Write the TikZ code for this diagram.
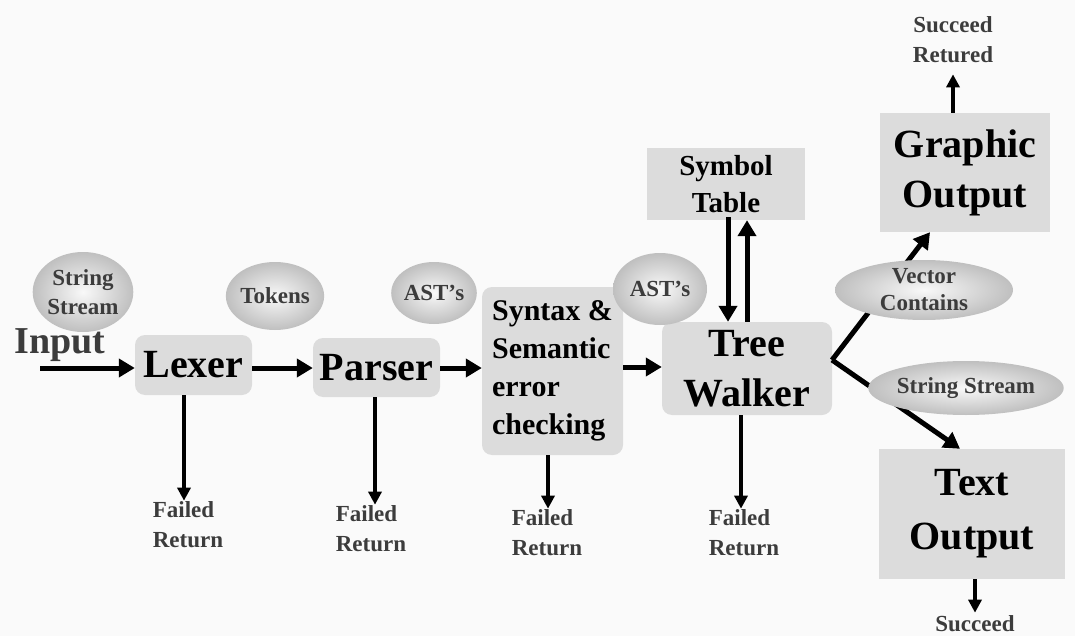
\documentclass[tikz,border=0pt]{standalone}
\usepackage{fontspec}
\setmainfont{Liberation Serif}
\usetikzlibrary{arrows.meta,shapes.geometric,calc}
\definecolor{boxgray}{HTML}{DCDCDC}
\definecolor{bgcol}{HTML}{FAFAFA}
\definecolor{txtgray}{HTML}{3C3C3C}
\begin{document}
\begin{tikzpicture}[x=1pt,y=-1pt,
  box/.style={fill=boxgray, inner sep=0pt, font=\bfseries\fontsize{40}{50}\selectfont, align=center},
  rbox/.style={box, rounded corners=10pt},
  bubble/.style={ellipse, inner sep=0pt, inner color=gray!5, outer color=gray!50, text=txtgray, font=\bfseries\fontsize{23}{29}\selectfont, align=center},
  lbl/.style={text=txtgray, font=\bfseries\fontsize{23}{30}\selectfont, align=left, inner sep=1pt},
  bigarrow/.style={line width=5pt, -{Triangle[length=16pt,width=18pt]}},
  thinarrow/.style={line width=4pt, -{Triangle[length=13pt,width=13pt]}}
]
\fill[bgcol] (0,0) rectangle (1075,636);
\useasboundingbox (0,0) rectangle (1075,636);

% boxes
\node[rbox, minimum width=117pt, minimum height=60pt] (lexer) at (193.5,365) {Lexer};
\node[rbox, minimum width=127pt, minimum height=59pt] (parser) at (376.5,367.5) {Parser};
\node[rbox, minimum width=141pt, minimum height=168pt, align=left, font=\bfseries\fontsize{30}{38}\selectfont] (syntax) at (552.5,371) {Syntax \&\\Semantic\\error\\checking};
\node[rbox, minimum width=170pt, minimum height=93pt] (tree) at (747,368.5) {Tree\\Walker};
\node[box, minimum width=158pt, minimum height=72pt, font=\bfseries\fontsize{29}{37}\selectfont] (symbol) at (726,184) {Symbol\\Table};
\node[box, minimum width=170pt, minimum height=119pt] (graphic) at (965,172.5) {Graphic\\Output};
\node[box, minimum width=186pt, minimum height=130pt, font=\bfseries\fontsize{40}{54}\selectfont] (textout) at (972,514) {Text\\Output};

% labels
\node[text=txtgray, font=\bfseries\fontsize{38}{40}\selectfont, inner sep=0pt] (input) at (60,345) {Input};
\coordinate (instart) at (40,368);
\node[lbl] (fr1) at (188,525) {Failed\\Return};
\node[lbl] (fr2) at (371,529) {Failed\\Return};
\node[lbl] (fr3) at (547,533) {Failed\\Return};
\node[lbl] (fr4) at (744,533) {Failed\\Return};
\node[lbl, align=center] (succret) at (953,40) {Succeed\\Retured};
\node[lbl] (succ) at (975,624) {Succeed};
\coordinate (vpt) at (832,360);

% connectors
\draw[bigarrow] (instart) -- (lexer.west |- instart);
\draw[bigarrow] (lexer.east |- 0,368) -- (parser.west |- 0,368);
\draw[bigarrow] (parser.east |- 0,368) -- (syntax.west |- 0,368);
\draw[bigarrow] (syntax.east |- 0,367) -- (tree.west |- 0,367);
\draw[bigarrow] ([yshift=3pt]symbol.south -| 728,0) -- (tree.north -| 728,0);
\draw[bigarrow] (tree.north -| 747,0) -- (symbol.south -| 747,0);
\draw[bigarrow] (vpt) -- (graphic.south -| 930,0);
\draw[bigarrow] (vpt) -- (textout.north -| 960,0);
\draw[thinarrow] (lexer.south -| 184,0) -- (fr1.north -| 184,0);
\draw[thinarrow] (parser.south -| 375,0) -- (fr2.north -| 375,0);
\draw[thinarrow] (syntax.south -| 548,0) -- (fr3.north -| 548,0);
\draw[thinarrow] (tree.south -| 741,0) -- (fr4.north -| 741,0);
\draw[thinarrow] (graphic.north -| succret) -- ([yshift=-10pt]succret.south);
\draw[thinarrow] (textout.south -| succ) -- ([yshift=2pt]succ.north);

% bubbles
\node[bubble, minimum width=88pt, minimum height=80pt] (ss1) at (83,292) {String\\Stream};
\node[bubble, minimum width=84pt, minimum height=68pt] (tokens) at (275,296) {Tokens};
\node[bubble, minimum width=82pt, minimum height=62pt] (ast1) at (434,293) {AST’s};
\node[bubble, minimum width=94pt, minimum height=72pt] (ast2) at (660,289) {AST’s};
\node[bubble, minimum width=178pt, minimum height=60pt, font=\bfseries\fontsize{23}{27}\selectfont] (vector) at (924,290) {Vector\\Contains};
\node[bubble, minimum width=182pt, minimum height=54pt] (ss2) at (966,388) {String Stream};
\end{tikzpicture}
\end{document}
